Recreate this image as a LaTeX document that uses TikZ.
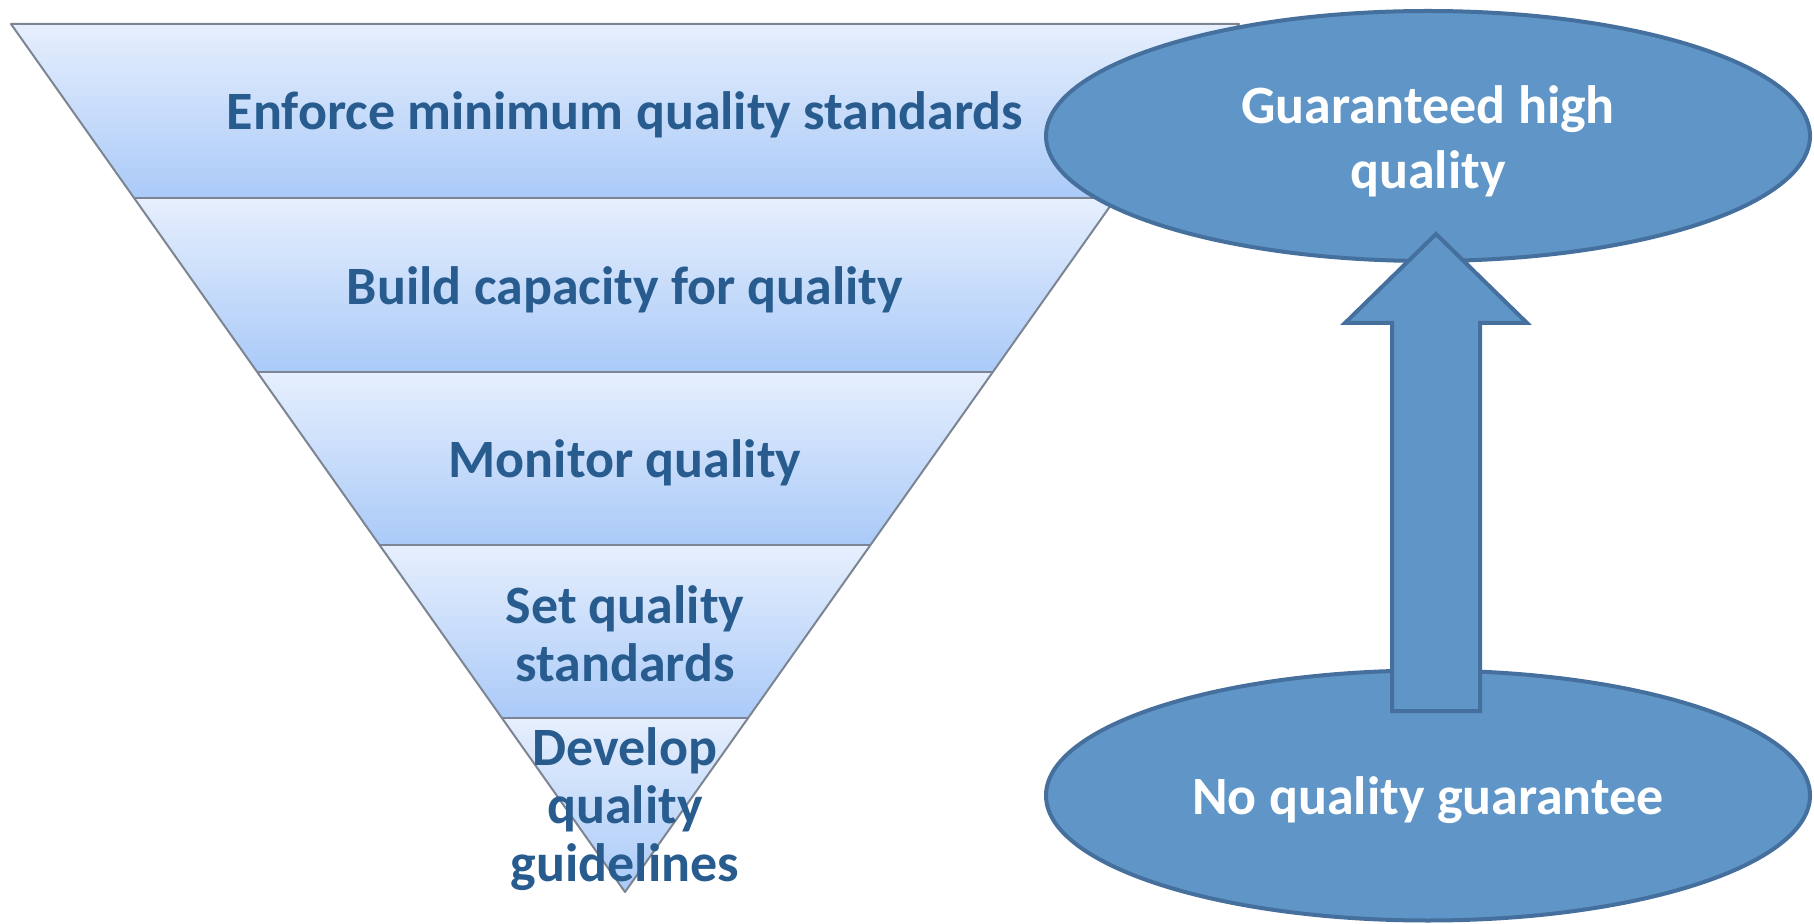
\documentclass[tikz,border=0pt]{standalone}
\usepackage{fontspec}
\setmainfont{Carlito}
\usetikzlibrary{shapes.geometric}

\definecolor{funnelTop}{HTML}{E6EFFD}
\definecolor{funnelBot}{HTML}{AACAF8}
\definecolor{funnelEdge}{HTML}{7C8591}
\definecolor{funnelText}{HTML}{285C8F}
\definecolor{bubbleFill}{HTML}{5F95C7}
\definecolor{bubbleEdge}{HTML}{45709D}

\tikzset{
  layer/.style={top color=funnelTop, bottom color=funnelBot},
  funnelline/.style={draw=funnelEdge, line width=1pt, line join=round},
  ftext/.style={text=funnelText, align=center, inner sep=0pt,
    font=\fontsize{27pt}{29pt}\selectfont\bfseries},
  bubble/.style={ellipse, draw=bubbleEdge, fill=bubbleFill, line width=2pt,
    minimum width=382pt, minimum height=125pt, inner sep=0pt},
  btext/.style={text=white, align=center, inner sep=0pt,
    font=\fontsize{27pt}{32.5pt}\selectfont\bfseries},
  blockarrow/.style={draw=bubbleEdge, fill=bubbleFill, line width=2pt, line join=miter},
}

\begin{document}
\begin{tikzpicture}[x=0.5pt,y=-0.5pt]
\useasboundingbox (0,0) rectangle (1814,924);

% funnel corners, layer by layer
\coordinate (l0) at (11,24);   \coordinate (r0) at (1239,24);
\coordinate (l1) at (134,198); \coordinate (r1) at (1116,198);
\coordinate (l2) at (257,372); \coordinate (r2) at (993,372);
\coordinate (l3) at (380,545); \coordinate (r3) at (870,545);
\coordinate (l4) at (502,718); \coordinate (r4) at (748,718);
\coordinate (tip) at (625,892);

% shaded layers
\shade[layer] (l0) -- (r0) -- (r1) -- (l1) -- cycle;
\shade[layer] (l1) -- (r1) -- (r2) -- (l2) -- cycle;
\shade[layer] (l2) -- (r2) -- (r3) -- (l3) -- cycle;
\shade[layer] (l3) -- (r3) -- (r4) -- (l4) -- cycle;
\shade[layer] (l4) -- (r4) -- (tip) -- cycle;

% outline and separators
\draw[funnelline] (l0) -- (r0) -- (tip) -- cycle;
\draw[funnelline] (l1) -- (r1);
\draw[funnelline] (l2) -- (r2);
\draw[funnelline] (l3) -- (r3);
\draw[funnelline] (l4) -- (r4);

% layer labels
\node[ftext] (t1) at (625,115) {Enforce minimum quality standards};
\node[ftext] (t2) at (625,290) {Build capacity for quality};
\node[ftext] (t3) at (625,463) {Monitor quality};
\node[ftext] (t4) at (625,634) {Set quality\\standards};
\node[ftext] (t5) at (625,809) {Develop\\quality\\guidelines};

% outcome bubbles
\node[bubble] (high) at (1428,136) {};
\node[btext] (hightext) at ([yshift=-2.5pt]high.center) {Guaranteed high\\quality};
\node[bubble] (none) at (1428,795.5) {};
\node[btext] (nonetext) at ([yshift=-2.5pt]none.center) {No quality guarantee};

% block arrow from no guarantee up to high quality
\coordinate (at) at (1436,234);
\coordinate (ahr) at (1527,323);
\coordinate (asr) at (1480,323);
\coordinate (abr) at (1480,711);
\coordinate (abl) at (1392,711);
\coordinate (asl) at (1392,323);
\coordinate (ahl) at (1345,323);
\draw[blockarrow] (at) -- (ahr) -- (asr) -- (abr) -- (abl) -- (asl) -- (ahl) -- cycle;
\end{tikzpicture}
\end{document}
